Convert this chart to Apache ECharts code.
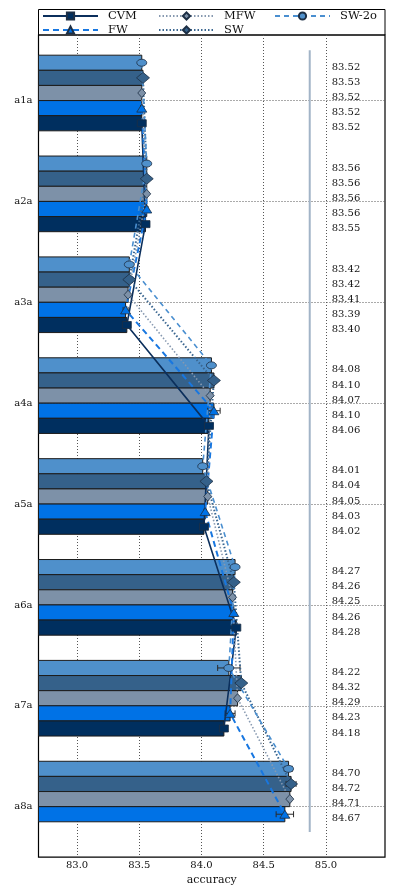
<!DOCTYPE html>
<html lang="en">
<head>
    <meta charset="UTF-8">
    <title>accuracy</title>
    <style>
        html, body { margin: 0; padding: 0; background: #fff; }
        #chart { width: 399px; height: 891px; }
    </style>
</head>
<body>
<div id="chart"></div>
<script src="https://cdn.jsdelivr.net/npm/echarts@6/dist/echarts.min.js"></script>
<script type="text/javascript">
    // data
    var categories = ['a1a', 'a2a', 'a3a', 'a4a', 'a5a', 'a6a', 'a7a', 'a8a'];
    var cvm  = [83.52, 83.55, 83.40, 84.06, 84.02, 84.28, 84.18, null];
    var fw   = [83.52, 83.56, 83.39, 84.10, 84.03, 84.26, 84.23, 84.67];
    var mfw  = [83.52, 83.56, 83.41, 84.07, 84.05, 84.25, 84.29, 84.71];
    var sw   = [83.53, 83.56, 83.42, 84.10, 84.04, 84.26, 84.32, 84.72];
    var sw2o = [83.52, 83.56, 83.42, 84.08, 84.01, 84.27, 84.22, 84.70];
    // error bar half widths (estimated)
    var cvmErr  = [0.01, 0.01, 0.01, 0.02, 0.01, 0.01, 0.01, null];
    var fwErr   = [0.01, 0.01, 0.02, 0.05, 0.01, 0.01, 0.04, 0.07];
    var mfwErr  = [0.005, 0.005, 0.005, 0.01, 0.005, 0.01, 0.01, 0.01];
    var swErr   = [0.01, 0.01, 0.01, 0.01, 0.01, 0.01, 0.02, 0.04];
    var sw2oErr = [0.01, 0.01, 0.01, 0.01, 0.01, 0.01, 0.09, 0.03];
    var xTicks = [83.0, 83.5, 84.0, 84.5, 85.0];
    var refLineX = 84.87;

    var FONT = 'DejaVu Serif';
    var X_MIN = 82.69, X_MAX = 85.475;
    var Y_MIN = -0.65, Y_MAX = 7.5;
    var BAR_W = 0.15;
    var LABEL_X = 85.046;

    // order of bars inside a group, top to bottom
    var order = ['SW-2o', 'SW', 'MFW', 'FW', 'CVM'];
    var values = { 'CVM': cvm, 'FW': fw, 'MFW': mfw, 'SW': sw, 'SW-2o': sw2o };
    var errors = { 'CVM': cvmErr, 'FW': fwErr, 'MFW': mfwErr, 'SW': swErr, 'SW-2o': sw2oErr };
    var barColor = { 'CVM': '#002f5f', 'FW': '#0072e6', 'MFW': '#7d91a8', 'SW': '#35618a', 'SW-2o': '#4f90cb' };
    var look = {
        'CVM':   { line: '#0b2f5c', type: 'solid',  width: 1.6, symbol: 'rect',     size: [9, 7] },
        'FW':    { line: '#1877e0', type: [6, 4],   width: 2,   symbol: 'triangle', size: [10, 8] },
        'MFW':   { line: '#8799b0', type: [1.5, 2], width: 1.6, symbol: 'diamond',  size: [8, 9] },
        'SW':    { line: '#3a6690', type: [1.5, 2], width: 2,   symbol: 'diamond',  size: [13, 11] },
        'SW-2o': { line: '#4a8fd0', type: [5, 4],   width: 1.6, symbol: 'circle',   size: [10, 7] }
    };

    function pointsOf(name) {
        var k = order.indexOf(name);
        var out = [];
        values[name].forEach(function (v, g) {
            if (v != null) out.push([v, g + (k - 2.5) * BAR_W, errors[name][g]]);
        });
        return out;
    }

    var series = [];
    order.forEach(function (name) {
        var pts = pointsOf(name);
        series.push({
            name: name + ' bars',
            type: 'custom',
            z: 1,
            silent: true,
            encode: { x: 0, y: 1 },
            data: pts,
            renderItem: function (params, api) {
                var y = api.value(1);
                var a = api.coord([X_MIN, y]);
                var b = api.coord([api.value(0), y]);
                var h = api.size([0, BAR_W])[1];
                return {
                    type: 'rect',
                    shape: { x: a[0], y: a[1] - h / 2, width: b[0] - a[0], height: h },
                    style: { fill: barColor[name], stroke: '#1c1c1c', lineWidth: 1 }
                };
            }
        });
        series.push({
            name: name + ' err',
            type: 'custom',
            z: 2,
            silent: true,
            encode: { x: 0, y: 1 },
            data: pts,
            renderItem: function (params, api) {
                var v = api.value(0), y = api.value(1), e = api.value(2);
                var l = api.coord([v - e, y]), r = api.coord([v + e, y]);
                var st = { stroke: '#2a2a2a', lineWidth: 1 };
                return {
                    type: 'group',
                    children: [
                        { type: 'line', shape: { x1: l[0], y1: l[1], x2: r[0], y2: r[1] }, style: st },
                        { type: 'line', shape: { x1: l[0], y1: l[1] - 3, x2: l[0], y2: l[1] + 3 }, style: st },
                        { type: 'line', shape: { x1: r[0], y1: r[1] - 3, x2: r[0], y2: r[1] + 3 }, style: st }
                    ]
                };
            }
        });
        series.push({
            name: name + ' text',
            type: 'custom',
            z: 5,
            silent: true,
            clip: false,
            encode: { x: 0, y: 1 },
            data: pts,
            renderItem: function (params, api) {
                var p = api.coord([LABEL_X, api.value(1)]);
                return {
                    type: 'text',
                    x: p[0], y: p[1] + 4.5,
                    style: {
                        text: api.value(0).toFixed(2),
                        fill: '#151515', font: '10px "' + FONT + '"',
                        textAlign: 'left', textVerticalAlign: 'middle'
                    }
                };
            }
        });
    });

    // lines with markers, in legend order
    ['CVM', 'FW', 'MFW', 'SW', 'SW-2o'].forEach(function (name) {
        var s = look[name];
        series.push({
            name: name,
            type: 'line',
            z: 3,
            data: pointsOf(name).map(function (p) { return [p[0], p[1]]; }),
            symbol: s.symbol,
            symbolSize: s.size,
            showAllSymbol: true,
            lineStyle: { color: s.line, type: s.type, width: s.width },
            itemStyle: { color: barColor[name], borderColor: '#1d2f45', borderWidth: 0.8 }
        });
    });

    series.push({
        name: 'ref',
        type: 'line',
        z: 2,
        silent: true,
        symbol: 'none',
        data: [[refLineX, -0.5], [refLineX, 7.25]],
        lineStyle: { color: '#a2b4c7', width: 2 }
    });

    var chart = echarts.init(document.getElementById('chart'));
    chart.setOption({
        animation: false,
        textStyle: { fontFamily: FONT },
        grid: { left: 38.5, right: 14, top: 35, bottom: 30, show: true, borderColor: '#000', borderWidth: 1.2, backgroundColor: 'transparent' },
        graphic: [{
            type: 'rect',
            shape: { x: 38.5, y: 9.5, width: 346.5, height: 25.5 },
            style: { fill: 'none', stroke: '#000', lineWidth: 1 },
            silent: true
        }],
        legend: {
            data: ['CVM', 'MFW', 'SW-2o', 'FW', 'SW'],
            left: 42, top: 10, width: 350,
            padding: 0,
            itemWidth: 55, itemHeight: 9, itemGap: 2,
            textStyle: { fontFamily: FONT, fontSize: 11.5, color: '#111', width: 48, lineHeight: 12, padding: [0, 0, 0, 5] }
        },
        xAxis: {
            type: 'value',
            min: X_MIN, max: X_MAX,
            name: 'accuracy',
            nameLocation: 'middle',
            nameGap: 14,
            nameTextStyle: { fontFamily: FONT, fontSize: 11, color: '#111' },
            axisLine: { show: false },
            axisTick: { show: false, customValues: xTicks },
            axisLabel: { customValues: xTicks, margin: 3, fontFamily: FONT, fontSize: 10, color: '#111',
                formatter: function (v) { return v.toFixed(1); } },
            splitLine: { show: true, lineStyle: { type: [1, 2], color: '#555', width: 1 } }
        },
        yAxis: {
            type: 'value',
            inverse: true,
            min: Y_MIN, max: Y_MAX,
            axisLine: { show: false },
            axisTick: { show: false, customValues: [0, 1, 2, 3, 4, 5, 6, 7] },
            axisLabel: { customValues: [0, 1, 2, 3, 4, 5, 6, 7], margin: 6, fontFamily: FONT, fontSize: 10, color: '#111',
                formatter: function (v) { return categories[Math.round(v)]; } },
            splitLine: { show: true, lineStyle: { type: [1, 2], color: '#555', width: 1 } }
        },
        series: series
    });
</script>
</body>
</html>
